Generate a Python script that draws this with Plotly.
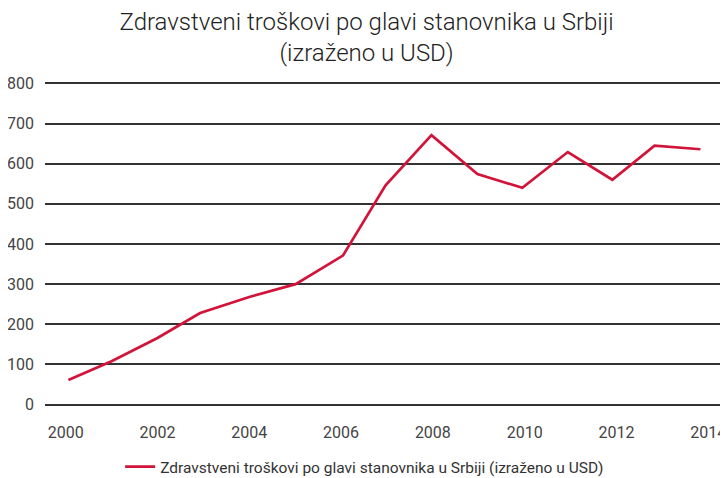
import plotly.graph_objects as go

years = [2000.06, 2001.0, 2002.0, 2002.93, 2004.0, 2005.01, 2006.04, 2006.97,
         2007.97, 2008.97, 2009.95, 2010.94, 2011.91, 2012.83, 2013.83]
values = [61, 108, 166, 228, 268, 300, 371, 546, 671, 574, 540, 629, 560, 645, 636]
series_name = "Zdravstveni troškovi po glavi stanovnika u Srbiji (izraženo u USD)"
title_text = "Zdravstveni troškovi po glavi stanovnika u Srbiji<br>(izraženo u USD)"
x_ticks = [2000, 2002, 2004, 2006, 2008, 2010, 2012, 2014]
y_ticks = [0, 100, 200, 300, 400, 500, 600, 700, 800]

FONT = "Roboto, 'Noto Sans', sans-serif"

fig = go.Figure()
fig.add_trace(go.Scatter(
    x=years, y=values, mode="lines", name=series_name,
    line=dict(color="#D2143A", width=2.7),
))

# page body has an 8px default margin, so the figure is 720x470
fig.update_layout(
    width=720, height=470,
    margin=dict(l=37, r=0, t=73, b=71),
    paper_bgcolor="white", plot_bgcolor="white",
    font=dict(family=FONT, color="#444444", size=16),
    title=dict(text=title_text, x=0.498, xanchor="center", yref="container",
               y=1 - 22 / 470, yanchor="middle",
               font=dict(family=FONT, size=24, color="#222222", weight=300)),
    showlegend=True,
    legend=dict(orientation="h", x=0.468, xanchor="center", yref="container",
                y=11 / 470, yanchor="middle",
                font=dict(family=FONT, size=15.5, color="#333333")),
    xaxis=dict(range=[1999.55, 2014.43], tickvals=x_ticks, ticktext=[str(t) for t in x_ticks],
               showgrid=False, zeroline=False, showline=False, ticks="",
               ticklabelstandoff=14, automargin=False),
    yaxis=dict(range=[-6, 806], tickvals=y_ticks, showgrid=True, gridcolor="#333333",
               gridwidth=1.5, zeroline=True, zerolinecolor="#333333", zerolinewidth=1.5,
               showline=False, ticks="", ticklabelstandoff=10, automargin=False),
)

fig.write_html("out.html")
